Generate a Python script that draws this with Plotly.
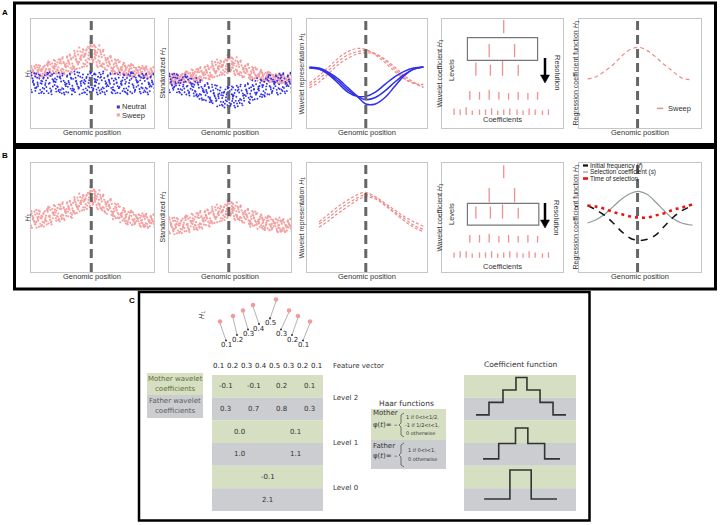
import plotly.graph_objects as go

W, H = 720, 525
def PX(x): return x / W
def PY(y): return 1 - y / H

SANS = "Liberation Sans, Arial, sans-serif"
VERD = "DejaVu Sans, Verdana, sans-serif"
PINK = "#f4a0a0"
BLUE = "#3030e8"
GREEN_BG = "#d6dfc2"
GREY_BG = "#cbcdd1"

# ------------------------------------------------------------------ data
# genomic positions of the columns of simulated H1 values (fraction of window)
CLOUD_X = [0.01, 0.06, 0.11, 0.16, 0.21, 0.26, 0.31, 0.36, 0.41, 0.46, 0.50,
           0.54, 0.59, 0.64, 0.69, 0.74, 0.79, 0.84, 0.89, 0.94, 0.99]

# lower / upper edge of each point band (fraction of panel height)
A1_NEUTRAL_LO = [0.31,0.30,0.31,0.30,0.31,0.30,0.30,0.31,0.30,0.30,0.31,0.30,0.30,0.31,0.30,0.31,0.30,0.30,0.31,0.30,0.31]
A1_NEUTRAL_HI = [0.51,0.50,0.51,0.52,0.51,0.50,0.51,0.52,0.51,0.52,0.52,0.51,0.52,0.51,0.50,0.51,0.52,0.51,0.50,0.51,0.50]
A1_SWEEP_LO = [0.45,0.46,0.46,0.47,0.48,0.49,0.50,0.52,0.54,0.56,0.57,0.55,0.53,0.51,0.49,0.48,0.47,0.46,0.46,0.45,0.45]
A1_SWEEP_HI = [0.57,0.58,0.59,0.61,0.63,0.65,0.68,0.71,0.74,0.77,0.79,0.76,0.72,0.66,0.63,0.61,0.59,0.58,0.57,0.57,0.56]

A2_NEUTRAL_LO = [0.31,0.31,0.30,0.29,0.27,0.25,0.23,0.21,0.19,0.18,0.17,0.18,0.20,0.22,0.24,0.26,0.28,0.29,0.30,0.31,0.31]
A2_NEUTRAL_HI = [0.50,0.50,0.49,0.48,0.46,0.44,0.42,0.40,0.39,0.38,0.38,0.39,0.40,0.42,0.44,0.46,0.48,0.49,0.50,0.51,0.51]
A2_SWEEP_LO = [0.40,0.40,0.41,0.41,0.42,0.43,0.44,0.45,0.47,0.48,0.49,0.48,0.46,0.45,0.44,0.43,0.42,0.41,0.41,0.40,0.40]
A2_SWEEP_HI = [0.50,0.50,0.51,0.52,0.54,0.56,0.58,0.61,0.63,0.65,0.67,0.65,0.62,0.59,0.56,0.54,0.52,0.51,0.50,0.50,0.49]

B1_SWEEP_LO = [0.39,0.40,0.41,0.43,0.45,0.47,0.49,0.52,0.55,0.57,0.59,0.57,0.54,0.51,0.48,0.45,0.43,0.42,0.41,0.40,0.40]
B1_SWEEP_HI = [0.56,0.57,0.58,0.60,0.62,0.64,0.66,0.69,0.72,0.75,0.78,0.75,0.71,0.67,0.63,0.60,0.57,0.55,0.54,0.54,0.53]
B2_SWEEP_LO = [0.34,0.34,0.35,0.36,0.37,0.39,0.41,0.43,0.45,0.47,0.49,0.47,0.45,0.43,0.41,0.39,0.38,0.37,0.36,0.36,0.36]
B2_SWEEP_HI = [0.50,0.50,0.51,0.52,0.54,0.56,0.58,0.60,0.62,0.64,0.66,0.64,0.61,0.58,0.56,0.54,0.52,0.51,0.50,0.49,0.49]

# fixed scatter pattern inside each band (hand typed)
JIT_U = [0.04,0.63,0.29,0.87,0.48,0.15,0.72,0.37,0.96,0.21,0.56,0.81,
         0.09,0.67,0.42,0.99,0.25,0.59,0.33,0.77,0.12,0.51,0.91]
JIT_DX = [-0.8,0.3,0.9,-0.2,0.5,-0.6,0.1,-0.95,0.7,-0.4,0.2,0.95,-0.1,-0.7,0.6,-0.3]

# wavelet representations (three replicates each)
CURVE_X = [0.02,0.10,0.18,0.26,0.34,0.42,0.49,0.57,0.65,0.73,0.81,0.89,0.97]
A3_NEUTRAL = [
    [0.55,0.54,0.49,0.41,0.33,0.29,0.29,0.33,0.40,0.47,0.52,0.55,0.56],
    [0.55,0.54,0.50,0.43,0.35,0.29,0.26,0.28,0.34,0.42,0.49,0.54,0.56],
    [0.56,0.55,0.51,0.45,0.37,0.29,0.22,0.22,0.28,0.38,0.48,0.54,0.56],
]
A3_SWEEP = [
    [0.41,0.48,0.56,0.64,0.70,0.73,0.72,0.67,0.60,0.52,0.45,0.41,0.40],
    [0.39,0.45,0.53,0.61,0.67,0.70,0.71,0.68,0.62,0.54,0.46,0.41,0.38],
    [0.37,0.42,0.50,0.58,0.64,0.68,0.69,0.68,0.63,0.56,0.48,0.42,0.37],
]
B3_SWEEP = [
    [0.41,0.46,0.53,0.60,0.66,0.71,0.73,0.69,0.63,0.57,0.51,0.46,0.42],
    [0.39,0.44,0.50,0.57,0.63,0.68,0.71,0.68,0.62,0.55,0.49,0.43,0.39],
    [0.37,0.41,0.47,0.54,0.60,0.66,0.69,0.67,0.61,0.54,0.47,0.41,0.37],
]

# wavelet coefficient pyramid: positions and magnitudes per level
PYR_X = [
    [0.51],
    [0.39, 0.60],
    [0.28, 0.40, 0.50, 0.63],
    [0.23, 0.31, 0.39, 0.47, 0.55, 0.63, 0.71, 0.79],
    [0.10, 0.15, 0.20, 0.25, 0.31, 0.36, 0.41, 0.46, 0.51, 0.56, 0.62, 0.67, 0.72, 0.77, 0.83, 0.88],
]
PYR_A = [
    [0.12],
    [0.12, 0.12],
    [0.12, 0.10, 0.14, 0.10],
    [0.08, 0.07, 0.09, 0.07, 0.06, 0.07, 0.06, 0.07],
    [0.06, 0.05, 0.07, 0.04, 0.05, 0.05, 0.06, 0.04, 0.05, 0.06, 0.05, 0.04, 0.06, 0.05, 0.04, 0.05],
]
PYR_B = [
    [0.12],
    [0.13, 0.13],
    [0.11, 0.11, 0.13, 0.10],
    [0.07, 0.07, 0.08, 0.06, 0.07, 0.06, 0.07, 0.06],
    [0.05, 0.06, 0.06, 0.04, 0.05, 0.05, 0.06, 0.04, 0.05, 0.06, 0.05, 0.04, 0.06, 0.05, 0.04, 0.05],
]

# regression coefficient functions
REG_X = [0.07,0.14,0.21,0.28,0.35,0.42,0.49,0.56,0.63,0.70,0.77,0.84,0.93]
A5_SWEEP = [0.45,0.47,0.52,0.58,0.66,0.72,0.74,0.71,0.65,0.58,0.52,0.46,0.44]
B5_INIT_FREQ = [0.61,0.57,0.52,0.45,0.37,0.31,0.29,0.30,0.34,0.42,0.50,0.56,0.61]
B5_SEL_COEF = [0.45,0.48,0.53,0.60,0.67,0.72,0.74,0.71,0.64,0.56,0.49,0.45,0.43]
B5_TIME_SEL = [0.61,0.60,0.58,0.55,0.53,0.51,0.50,0.50,0.52,0.54,0.57,0.59,0.62]

# panel C
FEATURE = [0.1, 0.2, 0.3, 0.4, 0.5, 0.3, 0.2, 0.1]
DOT_POS = [-0.1, 0.94, 1.74, 2.54, 4.38, 5.42, 6.14, 7.1]
LABEL_POS = [0.38, 1.26, 2.14, 3.02, 3.90, 4.78, 5.66, 6.54]
MOTHER_L2 = [-0.1, -0.1, 0.2, 0.1]
FATHER_L2 = [0.3, 0.7, 0.8, 0.3]
MOTHER_L1 = [0.0, 0.1]
FATHER_L1 = [1.0, 1.1]
MOTHER_L0 = [-0.1]
FATHER_L0 = [2.1]
LEVEL_NAMES = ["Level 2", "Level 1", "Level 0"]

STEP_L2_LEVELS = [0, 1, 2, 3, 2, 1, 0]
STEP_L2_BREAKS = [0.107, 0.223, 0.348, 0.464, 0.562, 0.679, 0.795, 0.911]
STEP_L1_LEVELS = [0, 1, 2, 1, 0]
STEP_L1_BREAKS = [0.17, 0.31, 0.46, 0.57, 0.72, 0.857]
STEP_L0_LEVELS = [0, 1, 0]
STEP_L0_BREAKS = [0.18, 0.41, 0.60, 0.83]

# ------------------------------------------------------------------ figure
fig = go.Figure()
layout = dict(width=720, height=525, margin=dict(l=0, r=0, t=0, b=0),
              paper_bgcolor="white", plot_bgcolor="white", showlegend=False)
shapes, annotations = [], []

def text(x, y, t, size=7.5, xanchor="center", yanchor="middle", angle=0,
         color="#333333", family=SANS, xref="paper", yref="paper"):
    if xref == "paper":
        x = PX(x)
    if yref == "paper":
        y = PY(y)
    annotations.append(dict(x=x, y=y, xref=xref, yref=yref, text=t, showarrow=False,
                            font=dict(size=size, color=color, family=family),
                            xanchor=xanchor, yanchor=yanchor, textangle=angle,
                            borderpad=0))

def rect_px(x0, y0, x1, y1, **kw):
    shapes.append(dict(type="rect", xref="paper", yref="paper",
                       x0=PX(x0), x1=PX(x1), y0=PY(y1), y1=PY(y0), **kw))

def path_px(points, closed=False, **kw):
    d = "M " + " L ".join(f"{PX(a):.5f},{PY(b):.5f}" for a, b in points)
    if closed:
        d += " Z"
    shapes.append(dict(type="path", xref="paper", yref="paper", path=d, **kw))

A_X = [(31, 154), (169, 291), (307, 427), (442, 563), (579, 701)]
ROW_Y = {"A": (19, 128), "B": (163, 272)}
frame_axis = dict(range=[0, 1], showline=True, mirror=True, linecolor="#c6c6c6",
                  linewidth=1, showgrid=False, zeroline=False,
                  showticklabels=False, ticks="", fixedrange=True)

def sfx(n):
    return "" if n == 1 else str(n)

panel = {}
n = 0
for key in ["A", "B"]:
    y0, y1 = ROW_Y[key]
    for c, (x0, x1) in enumerate(A_X):
        n += 1
        s = sfx(n)
        layout["xaxis" + s] = dict(frame_axis, domain=[PX(x0), PX(x1)], anchor="y" + s)
        layout["yaxis" + s] = dict(frame_axis, domain=[PY(y1), PY(y0)], anchor="x" + s)
        panel[(key, c)] = s

def add(tr, key, c):
    s = panel[(key, c)]
    tr.update(xaxis="x" + s, yaxis="y" + s, hoverinfo="skip")
    fig.add_trace(tr)

def cloud(lo, hi, n_per=18):
    xs, ys = [], []
    for c, (x0, l, h) in enumerate(zip(CLOUD_X, lo, hi)):
        for k in range(n_per):
            u = JIT_U[(k + 7 * c) % len(JIT_U)]
            d = JIT_DX[(k + 5 * c) % len(JIT_DX)]
            xs.append(x0 + 0.025 * d)
            ys.append(l + (h - l) * u)
    return xs, ys

def pts(lo, hi, color, key, c, size=2.2, n_per=18):
    xs, ys = cloud(lo, hi, n_per)
    add(go.Scatter(x=xs, y=ys, mode="markers",
                   marker=dict(size=size, color=color, line=dict(width=0))), key, c)

def vdash(key, c, x=0.49):
    s = panel[(key, c)]
    shapes.append(dict(type="line", xref="x" + s, yref="y" + s, x0=x, x1=x, y0=0, y1=1,
                       line=dict(color="#666666", width=3, dash="9px,5px")))

# --- column 1: H1
pts(A1_SWEEP_LO, A1_SWEEP_HI, PINK, "A", 0)
pts(A1_NEUTRAL_LO, A1_NEUTRAL_HI, BLUE, "A", 0, size=1.9, n_per=16)
pts(B1_SWEEP_LO, B1_SWEEP_HI, PINK, "B", 0)
# --- column 2: standardized
pts(A2_SWEEP_LO, A2_SWEEP_HI, PINK, "A", 1)
pts(A2_NEUTRAL_LO, A2_NEUTRAL_HI, BLUE, "A", 1, size=1.9, n_per=16)
pts(B2_SWEEP_LO, B2_SWEEP_HI, PINK, "B", 1)

# legend of A1
add(go.Scatter(x=[0.71, 0.71], y=[0.193, 0.12], mode="markers",
               marker=dict(size=3, symbol="square", color=[BLUE, PINK])), "A", 0)
text(121, 107, "Neutral", size=7.5, xanchor="left")
text(121, 115, "Sweep", size=7.5, xanchor="left")

# --- column 3: wavelet representation
for ys in A3_SWEEP:
    add(go.Scatter(x=CURVE_X, y=ys, mode="lines",
                   line=dict(color="#f08a8a", width=1.2, dash="3px,2px", shape="spline")), "A", 2)
for ys in A3_NEUTRAL:
    add(go.Scatter(x=CURVE_X, y=ys, mode="lines",
                   line=dict(color=BLUE, width=1.5, shape="spline")), "A", 2)
for ys in B3_SWEEP:
    add(go.Scatter(x=CURVE_X[1:], y=ys[1:], mode="lines",
                   line=dict(color="#f08a8a", width=1.2, dash="3px,2px", shape="spline")), "B", 2)

# --- column 4: wavelet coefficient pyramid
def pyramid(key, vals, bases, box):
    xs, ys = [], []
    for lev, (xl, vl) in enumerate(zip(PYR_X, vals)):
        for x, v in zip(xl, vl):
            xs += [x, x, None]
            ys += [bases[lev], bases[lev] + v, None]
    add(go.Scatter(x=xs, y=ys, mode="lines", line=dict(color="#f28f8f", width=1.3)), key, 3)
    s = panel[(key, 3)]
    shapes.append(dict(type="rect", xref="x" + s, yref="y" + s,
                       x0=box[0], x1=box[1], y0=box[2], y1=box[3],
                       line=dict(color="#777777", width=1.2)))

pyramid("A", PYR_A, [0.87, 0.65, 0.48, 0.26, 0.12], (0.21, 0.79, 0.62, 0.83))
pyramid("B", PYR_B, [0.86, 0.64, 0.49, 0.27, 0.13], (0.21, 0.80, 0.43, 0.63))

for key, ya, ylev, ycoef in [("A", 58, 70, 120), ("B", 203, 214, 266)]:
    # resolution arrow
    shapes.append(dict(type="line", xref="paper", yref="paper", x0=PX(545), x1=PX(545),
                       y0=PY(ya), y1=PY(ya + 18), line=dict(color="black", width=2.5)))
    path_px([(540.5, ya + 17), (549.5, ya + 17), (545, ya + 25)], closed=True,
            fillcolor="black", line=dict(color="black", width=0.5))
    text(557, ya + 14, "Resolution", size=7.5, angle=90)
    text(452, ylev, "Levels", size=7.5, angle=-90)
    text(502, ycoef, "Coefficients", size=7.5)

# --- column 5: regression coefficient functions
add(go.Scatter(x=REG_X, y=A5_SWEEP, mode="lines",
               line=dict(color="#f08a8a", width=1.2, dash="4px,3px", shape="spline")), "A", 4)
add(go.Scatter(x=REG_X, y=B5_SEL_COEF, mode="lines",
               line=dict(color="#8f9c9a", width=1.2, shape="spline")), "B", 4)
add(go.Scatter(x=REG_X, y=B5_INIT_FREQ, mode="lines",
               line=dict(color="#111111", width=1.5, dash="7px,6px", shape="spline")), "B", 4)
add(go.Scatter(x=REG_X, y=B5_TIME_SEL, mode="lines",
               line=dict(color="#ee1111", width=2.6, dash="3px,4px", shape="spline")), "B", 4)

sA5 = panel[("A", 4)]
shapes.append(dict(type="line", xref="x" + sA5, yref="y" + sA5, x0=0.64, x1=0.69,
                   y0=0.18, y1=0.18, line=dict(color="#f08a8a", width=1.5)))
text(667, 108, "Sweep", size=7.5, xanchor="left")

sB5 = panel[("B", 4)]
layout["yaxis" + sB5].update(tickvals=[0.6], ticks="outside", ticklen=3,
                             tickcolor="#333333", tickwidth=1)
for ypx, col, wd, label in [(165.5, "#111111", 2.2, "Initial frequency (<i>f</i>)"),
                            (172, "#8f9c9a", 1.2, "Selection coefficient (<i>s</i>)"),
                            (178.5, "#ee1111", 2.6, "Time of selection")]:
    shapes.append(dict(type="line", xref="paper", yref="paper", x0=PX(583), x1=PX(588),
                       y0=PY(ypx), y1=PY(ypx), line=dict(color=col, width=wd)))
    text(589, ypx, label, size=6.4, xanchor="left", color="#222222")

# dashed sweep position lines
for key in ["A", "B"]:
    for c in [0, 1, 2, 4]:
        vdash(key, c, 0.48 if c == 4 else 0.49)

# axis titles
YT = ["<i>H</i><sub>1</sub>", "Standardized <i>H</i><sub>1</sub>",
      "Wavelet representation <i>H</i><sub>1</sub>", "Wavelet coefficient <i>H</i><sub>1</sub>",
      "Regression coefficient function <i>H</i><sub>1</sub>"]
YT_X = [27, 162, 301, 439, 575]
for key, yc, yg in [("A", 73.5, 132), ("B", 217.5, 276)]:
    for c in range(5):
        text(YT_X[c], yc, YT[c], size=7, angle=-90)
        if c != 3:
            text((A_X[c][0] + A_X[c][1]) / 2, yg, "Genomic position", size=7.5)

# panel boxes and letters
rect_px(14.5, 3, 715.5, 144.5, line=dict(color="black", width=3))
rect_px(14.5, 147.5, 715.5, 289, line=dict(color="black", width=3))
rect_px(139, 292, 589.5, 520.5, line=dict(color="black", width=2.5))
text(5, 12, "<b>A</b>", size=8, color="black")
text(5, 155, "<b>B</b>", size=8, color="black")
text(132, 300, "<b>C</b>", size=8, color="black")

# ------------------------------------------------------------------ panel C
# dots (H1 values)
layout["xaxis11"] = dict(domain=[PX(215), PX(315)], range=[-0.5, 7.5], visible=False,
                         anchor="y11", fixedrange=True)
layout["yaxis11"] = dict(domain=[PY(352), PY(296)], range=[-0.4545, 0.5636], visible=False,
                         anchor="x11", fixedrange=True)
lx, ly = [], []
for i, v in enumerate(FEATURE):
    lx += [DOT_POS[i], LABEL_POS[i], None]
    ly += [v - 0.03, v - 0.345, None]
fig.add_trace(go.Scatter(x=lx, y=ly, mode="lines", line=dict(color="#a0a0a0", width=0.8),
                         xaxis="x11", yaxis="y11", hoverinfo="skip"))
fig.add_trace(go.Scatter(x=LABEL_POS, y=[v - 0.345 for v in FEATURE], mode="markers",
                         marker=dict(size=2.2, color="#444444"),
                         xaxis="x11", yaxis="y11", hoverinfo="skip"))
fig.add_trace(go.Scatter(x=DOT_POS, y=FEATURE, mode="markers",
                         marker=dict(size=4.5, color="#f59a9a"),
                         xaxis="x11", yaxis="y11", hoverinfo="skip"))
for i, v in enumerate(FEATURE):
    text(LABEL_POS[i], v - 0.436, f"{v:.1f}", size=7, family=VERD, color="#222222",
         xref="x11", yref="y11")
text(202, 315, "<i>H</i><sub>1</sub>", size=7, angle=-90, family=VERD)

# coefficient table (axis 12) and coefficient-function block (axis 13)
CW = 111 / 8.0      # px per table column unit
RH = 136 / 6.0      # px per row
layout["xaxis12"] = dict(domain=[PX(212), PX(212 + 12 * CW)], range=[0, 12], visible=False,
                         anchor="y12", fixedrange=True)
layout["yaxis12"] = dict(domain=[PY(511), PY(375 - RH)], range=[6, -1], visible=False,
                         anchor="x12", fixedrange=True)
layout["xaxis13"] = dict(domain=[PX(464), PX(576)], range=[0, 1], visible=False,
                         anchor="y13", fixedrange=True)
layout["yaxis13"] = dict(domain=[PY(511), PY(375 - RH)], range=[6, -1], visible=False,
                         anchor="x13", fixedrange=True)
for ax, xmax in [("12", 8), ("13", 1)]:
    for r in range(6):
        shapes.append(dict(type="rect", xref="x" + ax, yref="y" + ax, x0=0, x1=xmax,
                           y0=r, y1=r + 1, fillcolor=GREEN_BG if r % 2 == 0 else GREY_BG,
                           line=dict(width=0), layer="below"))

for i, v in enumerate(FEATURE):
    text(i + 0.5, -0.4, f"{v:.1f}", size=7, family=VERD, color="#222222",
         xref="x12", yref="y12")
text(8.65, -0.4, "Feature vector", size=7, family=VERD, xanchor="left",
     xref="x12", yref="y12")

for lev, (mom, dad) in enumerate([(MOTHER_L2, FATHER_L2), (MOTHER_L1, FATHER_L1),
                                  (MOTHER_L0, FATHER_L0)]):
    row = 2 * lev
    wdt = 8 / len(mom)
    for j, v in enumerate(mom):
        text((j + 0.5) * wdt, row + 0.5, f"{v:.1f}", size=7, family=VERD,
             xref="x12", yref="y12")
    for j, v in enumerate(dad):
        text((j + 0.5) * wdt, row + 1.5, f"{v:.1f}", size=7, family=VERD,
             xref="x12", yref="y12")
    text(8.65, row + 1, LEVEL_NAMES[lev], size=7, family=VERD, xanchor="left",
         xref="x12", yref="y12")

# mother / father legend boxes
rect_px(147, 373, 203, 395, fillcolor=GREEN_BG, line=dict(width=0), layer="below")
rect_px(147, 395, 203, 418, fillcolor=GREY_BG, line=dict(width=0), layer="below")
text(175, 379, "Mother wavelet", size=7, family=VERD, color="#5f6d35")
text(175, 389, "coefficients", size=7, family=VERD, color="#5f6d35")
text(175, 401, "Father wavelet", size=7, family=VERD, color="#5a5a5a")
text(175, 411, "coefficients", size=7, family=VERD, color="#5a5a5a")

# coefficient function step curves
for levels, breaks, base, step in [(STEP_L2_LEVELS, STEP_L2_BREAKS, 1.76, 0.55),
                                   (STEP_L1_LEVELS, STEP_L1_BREAKS, 3.70, 0.68),
                                   (STEP_L0_LEVELS, STEP_L0_BREAKS, 5.47, 1.28)]:
    ys = [base - step * l for l in levels] + [base - step * levels[-1]]
    fig.add_trace(go.Scatter(x=breaks, y=ys, mode="lines",
                             line=dict(color="#333333", width=1.6, shape="hv"),
                             xaxis="x13", yaxis="y13", hoverinfo="skip"))
text(0.5, -0.45, "Coefficient function", size=7.5, family=VERD, xref="x13", yref="y13")

# Haar functions box
text(406, 403, "Haar functions", size=7.5, family=VERD)
rect_px(371, 409, 446, 440, fillcolor=GREEN_BG, line=dict(width=0), layer="below")
rect_px(371, 440, 446, 469, fillcolor=GREY_BG, line=dict(width=0), layer="below")
text(372, 413, "Mother", size=7, family=VERD, xanchor="left", color="#333333")
text(372, 425, "φ(<i>t</i>)= –", size=7, family=VERD, xanchor="left", color="#333333")
text(372, 446, "Father", size=7, family=VERD, xanchor="left", color="#333333")
text(372, 456, "φ(<i>t</i>)= –", size=7, family=VERD, xanchor="left", color="#333333")
text(405, 417, "1 if 0&lt;t&lt;1/2,", size=5, family=VERD, xanchor="left", color="#333333")
text(404, 425, "-1 if 1/2&lt;t&lt;1,", size=5, family=VERD, xanchor="left", color="#333333")
text(405, 433, "0 otherwise", size=5, family=VERD, xanchor="left", color="#333333")
text(407, 450, "1 if 0&lt;t&lt;1,", size=5, family=VERD, xanchor="left", color="#333333")
text(407, 459, "0 otherwise", size=5, family=VERD, xanchor="left", color="#333333")

def brace(x, y0, y1):
    ym = (y0 + y1) / 2
    path_px([(x + 3, y0), (x, y0 + 2), (x, ym - 2), (x - 2, ym), (x, ym + 2),
             (x, y1 - 2), (x + 3, y1)], line=dict(color="#555555", width=0.8))

brace(401, 413, 437)
brace(401, 443, 467)

layout["shapes"] = shapes
layout["annotations"] = annotations
fig.update_layout(**layout)
fig.write_html("out.html", config={"displayModeBar": False},
               post_script="document.body.style.margin='0px';")
